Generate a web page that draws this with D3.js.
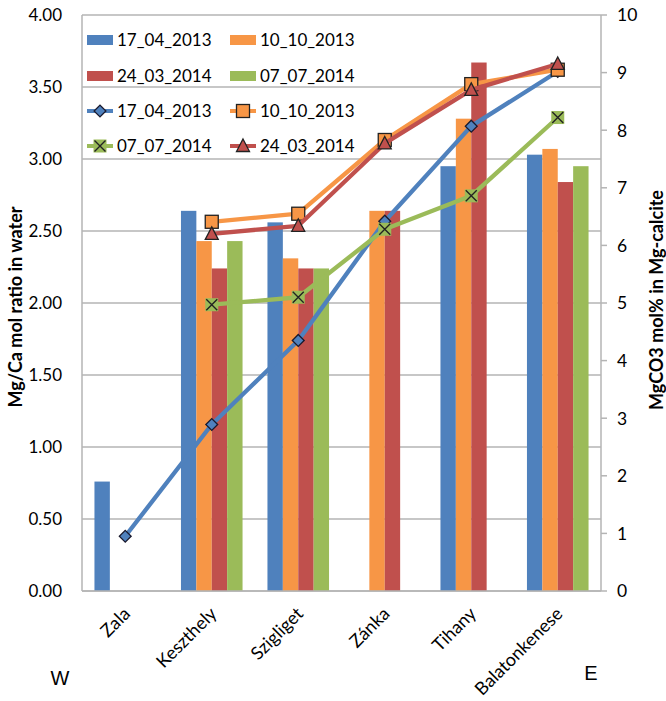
<!DOCTYPE html>
<html><head><meta charset="utf-8">
<script src="https://cdn.jsdelivr.net/npm/d3@7"></script>
<style>
html,body{margin:0;padding:0;background:#fff;}
svg{display:block;}
text{font-family:Lato,"Open Sans",sans-serif;fill:#000;}
</style></head>
<body>
<svg id="chart" width="666" height="701"></svg>
<script>
const categories = ["Zala","Keszthely","Szigliget","Zánka","Tihany","Balatonkenese"];
const barSeriesNames = ["17_04_2013","10_10_2013","24_03_2014","07_07_2014"];
const bar_17_04_2013 = [0.76, 2.64, 2.56, null, 2.95, 3.03];
const bar_10_10_2013 = [null, 2.43, 2.31, 2.64, 3.28, 3.07];
const bar_24_03_2014 = [null, 2.24, 2.24, 2.64, 3.67, 2.84];
const bar_07_07_2014 = [null, 2.43, 2.24, null, null, 2.95];
const lineSeriesNames = ["17_04_2013","10_10_2013","07_07_2014","24_03_2014"];
const line_17_04_2013 = [0.95, 2.89, 4.35, 6.42, 8.07, 9.02];
const line_10_10_2013 = [null, 6.41, 6.55, 7.83, 8.80, 9.05];
const line_07_07_2014 = [null, 4.97, 5.10, 6.28, 6.86, 8.22];
const line_24_03_2014 = [null, 6.20, 6.34, 7.77, 8.70, 9.15];
const leftTicks = [0,0.5,1,1.5,2,2.5,3,3.5,4];
const rightTicks = [0,1,2,3,4,5,6,7,8,9,10];
const leftTitle = "Mg/Ca mol ratio in water";
const rightTitle = "MgCO3 mol% in Mg-calcite";

const colors = {"17_04_2013":"#4f81bd","10_10_2013":"#f79646","24_03_2014":"#c0504d","07_07_2014":"#9bbb59"};
const markers = {"17_04_2013":"diamond","10_10_2013":"square","07_07_2014":"x","24_03_2014":"triangle"};

const barData = [bar_17_04_2013, bar_10_10_2013, bar_24_03_2014, bar_07_07_2014];
const lineData = [line_17_04_2013, line_10_10_2013, line_07_07_2014, line_24_03_2014];

const svg = d3.select("#chart");
const L = 82, R = 601, T = 15, B = 591;

const x0 = d3.scaleBand().domain(categories).range([L, R]).paddingInner(0.288).paddingOuter(0.144);
const x1 = d3.scaleBand().domain(barSeriesNames).range([0, x0.bandwidth()]);
const yL = d3.scaleLinear().domain([0, 4]).range([B, T]);
const yR = d3.scaleLinear().domain([0, 10]).range([B, T]);
const cx = c => x0(c) + x0.bandwidth() / 2;

const grid = "#b4b4b4";
// gridlines
svg.append("g").selectAll("line").data(leftTicks).join("line")
  .attr("x1", L).attr("x2", R).attr("y1", d => yL(d)).attr("y2", d => yL(d))
  .attr("stroke", grid).attr("stroke-width", 1.5);
// axes lines
svg.append("line").attr("x1", L).attr("x2", L).attr("y1", T).attr("y2", B).attr("stroke", grid).attr("stroke-width", 1.5);
svg.append("line").attr("x1", R).attr("x2", R).attr("y1", T).attr("y2", B).attr("stroke", grid).attr("stroke-width", 1.5);
svg.append("g").selectAll("line").data(rightTicks).join("line")
  .attr("x1", R).attr("x2", R + 6).attr("y1", d => yR(d)).attr("y2", d => yR(d))
  .attr("stroke", grid).attr("stroke-width", 1.5);

// left tick labels
svg.append("g").selectAll("text").data(leftTicks).join("text")
  .attr("x", 62).attr("y", d => yL(d)).attr("dy", "0.36em")
  .attr("text-anchor", "end").style("font-size", "17px")
  .text(d => d3.format(".2f")(d));
// right tick labels
svg.append("g").selectAll("text").data(rightTicks).join("text")
  .attr("x", 617).attr("y", d => yR(d)).attr("dy", "0.36em")
  .attr("text-anchor", "start").style("font-size", "17.5px")
  .text(d => d);

// bars
barSeriesNames.forEach((name, si) => {
  const vals = barData[si];
  svg.append("g").selectAll("rect")
    .data(categories.map((c, i) => ({c, v: vals[i]})).filter(d => d.v != null))
    .join("rect")
    .attr("x", d => x0(d.c) + x1(name)).attr("width", x1.bandwidth())
    .attr("y", d => yL(d.v)).attr("height", d => yL(0) - yL(d.v))
    .attr("fill", colors[name]);
});
// bottom axis line (over bars)
svg.append("line").attr("x1", L).attr("x2", R).attr("y1", B).attr("y2", B).attr("stroke", grid).attr("stroke-width", 1.5);

function drawMarker(g, type, x, y, color) {
  if (type === "diamond") {
    g.append("path").attr("d", d3.symbol(d3.symbolSquare, 70)())
      .attr("transform", `translate(${x},${y}) rotate(45)`)
      .attr("fill", color).attr("stroke", "#1a1a2e").attr("stroke-width", 1.3);
  } else if (type === "square") {
    g.append("rect").attr("x", x - 6.5).attr("y", y - 6.5).attr("width", 13).attr("height", 13)
      .attr("fill", color).attr("stroke", "#222").attr("stroke-width", 1.3);
  } else if (type === "triangle") {
    g.append("path").attr("d", `M${x},${y-7}L${x+6.5},${y+5.5}L${x-6.5},${y+5.5}Z`)
      .attr("fill", color).attr("stroke", "#222").attr("stroke-width", 1.3);
  } else if (type === "x") {
    g.append("rect").attr("x", x - 6.5).attr("y", y - 6.5).attr("width", 13).attr("height", 13)
      .attr("fill", color);
    g.append("path").attr("d", `M${x-5.5},${y-5.5}L${x+5.5},${y+5.5}M${x-5.5},${y+5.5}L${x+5.5},${y-5.5}`)
      .attr("stroke", "#222").attr("stroke-width", 1.4);
  }
}

// lines
const lineGen = d3.line().defined(d => d.v != null).x(d => cx(d.c)).y(d => yR(d.v));
lineSeriesNames.forEach((name, si) => {
  const pts = categories.map((c, i) => ({c, v: lineData[si][i]}));
  const g = svg.append("g");
  g.append("path").datum(pts).attr("d", lineGen)
    .attr("fill", "none").attr("stroke", colors[name]).attr("stroke-width", 4.3)
    .attr("stroke-linejoin", "round");
  pts.filter(d => d.v != null).forEach(d => drawMarker(g, markers[name], cx(d.c), yR(d.v), colors[name]));
});

// legend
const lg = svg.append("g");
const colX = [87, 230];
const rowY = [40, 76, 111, 146];
const legendBars = [["17_04_2013",0,0],["10_10_2013",1,0],["24_03_2014",0,1],["07_07_2014",1,1]];
legendBars.forEach(([n, c, r]) => {
  lg.append("rect").attr("x", colX[c]).attr("y", rowY[r] - 5).attr("width", 26).attr("height", 10).attr("fill", colors[n]);
  lg.append("text").attr("x", colX[c] + 30).attr("y", rowY[r]).attr("dy", "0.36em").style("font-size", "17px").text(n);
});
const legendLines = [["17_04_2013",0,2],["10_10_2013",1,2],["07_07_2014",0,3],["24_03_2014",1,3]];
legendLines.forEach(([n, c, r]) => {
  lg.append("line").attr("x1", colX[c]).attr("x2", colX[c] + 26).attr("y1", rowY[r]).attr("y2", rowY[r])
    .attr("stroke", colors[n]).attr("stroke-width", 4);
  drawMarker(lg, markers[n], colX[c] + 13, rowY[r], colors[n]);
  lg.append("text").attr("x", colX[c] + 30).attr("y", rowY[r]).attr("dy", "0.36em").style("font-size", "17px").text(n);
});

// x labels
svg.append("g").selectAll("text").data(categories).join("text")
  .attr("transform", d => `translate(${cx(d) + 6},${615}) rotate(-45)`)
  .attr("text-anchor", "end").style("font-size", "18px")
  .text(d => d);

// axis titles
svg.append("text").attr("transform", `translate(22,307) rotate(-90)`)
  .attr("text-anchor", "middle").style("font-size", "18px").style("font-weight", "bold").text(leftTitle);
svg.append("text").attr("transform", `translate(663,300) rotate(-90)`)
  .attr("text-anchor", "middle").style("font-size", "18px").style("font-weight", "bold").text(rightTitle);

// W / E
svg.append("text").attr("x", 60).attr("y", 685).attr("text-anchor", "middle")
  .style("font-family", "'Liberation Sans',Arial,sans-serif").style("font-size", "20px").text("W");
svg.append("text").attr("x", 591).attr("y", 680).attr("text-anchor", "middle")
  .style("font-family", "'Liberation Sans',Arial,sans-serif").style("font-size", "20px").text("E");
</script>
</body></html>
